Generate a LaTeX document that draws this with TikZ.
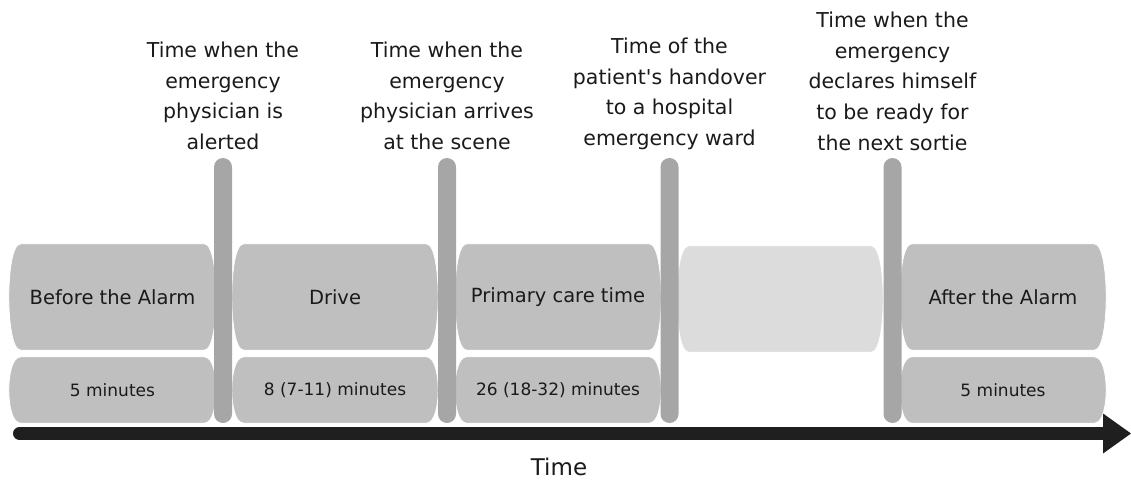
\documentclass[tikz,border=0pt]{standalone}
\usepackage{fontspec}
\setmainfont{DejaVu Sans}[Ligatures=TeXOff]
\usetikzlibrary{calc,arrows.meta,backgrounds}

\definecolor{boxgray}{HTML}{BFBFBF}
\definecolor{bargray}{HTML}{A6A6A6}
\definecolor{lightgray}{HTML}{DCDCDC}
\definecolor{axisblack}{HTML}{1F1F1F}
\definecolor{ink}{HTML}{1A1A1A}

% Fill a box with slightly bulging sides behind node #1
% #2 = fill colour, #3 = control distance of the side curves
\newcommand\capsulefill[3]{%
  \begin{scope}[on background layer]
  \fill[#2, draw=white, line width=0.8pt]
    ($(#1.north west)+(9,0)$) -- ($(#1.north east)+(-9,0)$)
    .. controls (#1.north east) and ($(#1.east)+(3,-#3)$) .. ($(#1.east)+(3,0)$)
    .. controls ($(#1.east)+(3,#3)$) and (#1.south east) .. ($(#1.south east)+(-9,0)$)
    -- ($(#1.south west)+(9,0)$)
    .. controls (#1.south west) and ($(#1.west)+(-3,#3)$) .. ($(#1.west)+(-3,0)$)
    .. controls ($(#1.west)+(-3,-#3)$) and (#1.north west) .. cycle;
  \end{scope}}

\begin{document}
\begin{tikzpicture}[x=1pt, y=-1pt,
  phase/.style={rectangle, inner sep=0pt, minimum width=200pt, minimum height=106pt,
    text=ink, font=\fontsize{19.5}{23}\selectfont},
  span/.style={rectangle, inner sep=0pt, minimum width=200pt, minimum height=66pt,
    text=ink, font=\fontsize{17}{20}\selectfont},
  marker/.style={rectangle, rounded corners=9pt, fill=bargray, inner sep=0pt,
    minimum width=18pt, minimum height=265pt},
  event/.style={align=center, anchor=north, inner sep=0pt, text=ink,
    font=\fontsize{20.5}{30.75}\selectfont},
  axis/.style={line width=13pt, draw=axisblack, line cap=round,
    -{Triangle[length=28pt, width=40pt, line width=0pt]}}]

\useasboundingbox (0,0) rectangle (1131,481);

% phases
\node[phase, minimum width=201pt] (up1) at (112.5,297) {Before the Alarm};
\node[phase] (up2) at (335,297) {Drive};
\node[phase] (up3) at (558,297) {Primary care time};
\node[phase] (up4) at (780,299) {};
\node[phase] (up5) at (1003,297) {After the Alarm};

% durations
\node[span, minimum width=201pt] (lo1) at (112.5,390) {5 minutes};
\node[span] (lo2) at (335,390) {8 (7-11) minutes};
\node[span] (lo3) at (558,390) {26 (18-32) minutes};
\node[span] (lo5) at (1003,390) {5 minutes};

\capsulefill{up1}{boxgray}{22}
\capsulefill{up2}{boxgray}{22}
\capsulefill{up3}{boxgray}{22}
\capsulefill{up4}{lightgray}{22}
\capsulefill{up5}{boxgray}{22}
\capsulefill{lo1}{boxgray}{14}
\capsulefill{lo2}{boxgray}{14}
\capsulefill{lo3}{boxgray}{14}
\capsulefill{lo5}{boxgray}{14}

% event markers
\node[marker] (m1) at (223,290.5) {};
\node[marker] (m2) at (447,290.5) {};
\node[marker] (m3) at (669.5,290.5) {};
\node[marker] (m4) at (892.5,290.5) {};

% event descriptions
\node[event] (e1) at (223,41.5) {Time when the\\emergency\\physician is\\alerted};
\node[event] (e2) at (447,41.5) {Time when the\\emergency\\physician arrives\\at the scene};
\node[event] (e3) at (669.5,37.5) {Time of the\\patient's handover\\to a hospital\\emergency ward};
\node[event] (e4) at (892.5,11.5) {Time when the\\emergency\\declares himself\\to be ready for\\the next sortie};

% time axis
\coordinate (t0) at (19.5,433.5);
\coordinate (t1) at (1131,433.5);
\draw[axis] (t0) -- (t1);
\node[text=ink, font=\fontsize{23}{27}\selectfont] (tl) at (559,467) {Time};
\end{tikzpicture}
\end{document}
